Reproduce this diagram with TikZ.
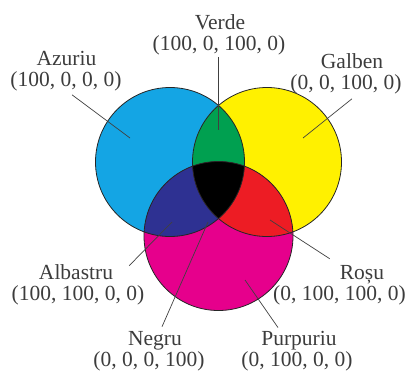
\documentclass[tikz,border=0pt]{standalone}
\usepackage{fontspec}
\setmainfont{Liberation Serif}
\definecolor{cCyan}{RGB}{20,165,228}
\definecolor{cYellow}{RGB}{255,241,0}
\definecolor{cMagenta}{RGB}{230,0,140}
\definecolor{cGreen}{RGB}{0,160,80}
\definecolor{cBlue}{RGB}{46,49,146}
\definecolor{cRed}{RGB}{237,28,36}
\definecolor{cText}{RGB}{60,60,60}
\begin{document}
\begin{tikzpicture}[x=1pt,y=-1pt,
  lbl/.style={inner sep=0pt, anchor=base, text=cText, font=\fontsize{21.5}{24}\selectfont},
  leader/.style={draw=black!75, line width=0.7pt},
  rim/.style={draw=black!85, line width=0.8pt}]
\useasboundingbox (0,0) rectangle (409,370);
% circle centres
\coordinate (C) at (170,162);
\coordinate (Y) at (267,162);
\coordinate (M) at (218.5,236);
% base fills
\fill[cCyan] (C) circle [radius=74.5pt];
\fill[cYellow] (Y) circle [radius=74.5pt];
\fill[cMagenta] (M) circle [radius=74.5pt];
% overlaps
\begin{scope}
  \clip (C) circle [radius=74.5pt];
  \fill[cGreen] (Y) circle [radius=74.5pt];
  \fill[cBlue] (M) circle [radius=74.5pt];
\end{scope}
\begin{scope}
  \clip (Y) circle [radius=74.5pt];
  \fill[cRed] (M) circle [radius=74.5pt];
  \clip (C) circle [radius=74.5pt];
  \fill[black] (M) circle [radius=74.5pt];
\end{scope}
% outlines
\draw[rim] (C) circle [radius=74.5pt];
\draw[rim] (Y) circle [radius=74.5pt];
\draw[rim] (M) circle [radius=74.5pt];
% labels
\node[lbl] (veN) at (220,29.5) {Verde};
\node[lbl] (veV) at (219,50) {(100, 0, 100, 0)};
\node[lbl] (azN) at (66.5,65) {Azuriu};
\node[lbl] (azV) at (66,86) {(100, 0, 0, 0)};
\node[lbl] (gaN) at (352,68) {Galben};
\node[lbl] (gaV) at (346,89) {(0, 0, 100, 0)};
\node[lbl] (alN) at (76,279) {Albastru};
\node[lbl] (alV) at (78,300) {(100, 100, 0, 0)};
\node[lbl] (roN) at (362,279) {Roșu};
\node[lbl, anchor=base west] (roV) at (273,300) {(0, 100, 100, 0)};
\node[lbl] (neN) at (155,345) {Negru};
\node[lbl] (neV) at (149,366) {(0, 0, 0, 100)};
\node[lbl] (puN) at (299,345) {Purpuriu};
\node[lbl] (puV) at (297,366) {(0, 100, 0, 0)};
% inner ends of the leaders
\coordinate (azIn) at (130,138);
\coordinate (veIn) at (218,130);
\coordinate (gaIn) at (303,138);
\coordinate (alIn) at (172,222);
\coordinate (neIn) at (208,222);
\coordinate (roIn) at (270,220);
\coordinate (puIn) at (245,280);
% leaders
\draw[leader] ([shift={(6,4)}]azV.south) -- (azIn);
\draw[leader] ([shift={(-1,2)}]veV.south) -- (veIn);
\draw[leader] ([shift={(6,5)}]gaV.south) -- (gaIn);
\draw[leader] ([shift={(16,-6)}]alN.east) -- (alIn);
\draw[leader] ([shift={(7,-4)}]neN.north) -- (neIn);
\draw[leader] ([shift={(-10,-6)}]roN.north west) -- (roIn);
\draw[leader] ([shift={(-21,-3)}]puN.north) -- (puIn);
\end{tikzpicture}
\end{document}
